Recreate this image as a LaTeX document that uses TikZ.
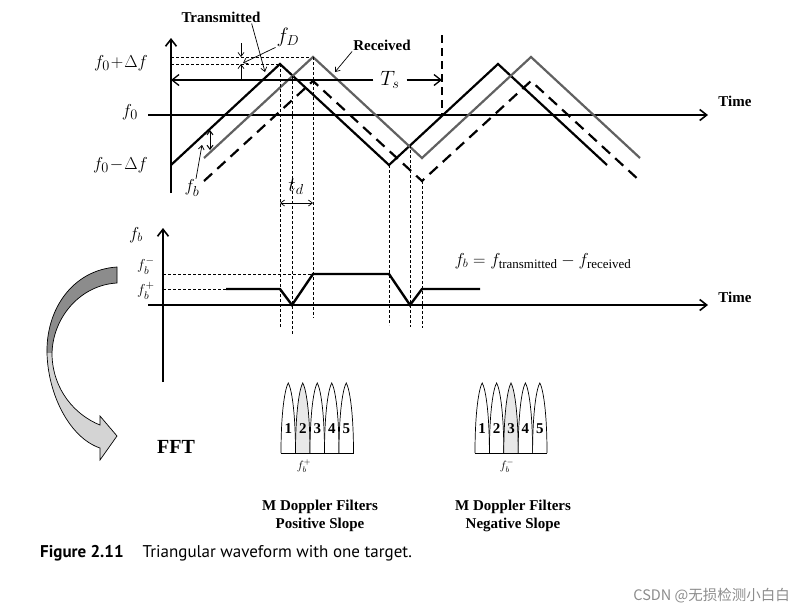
\documentclass[tikz,border=0pt]{standalone}
\usepackage{amsmath}
\usepackage{fontspec}
\setmainfont{Liberation Serif}
\newfontfamily\capfont{PT Sans}
\newfontfamily\cjkfont{Noto Sans CJK SC}
\usepackage{tikz}
\usetikzlibrary{arrows.meta, positioning, calc}

\def\fftarrowpath{(117,267) .. controls (72,270) and (46,310) .. (47,353)
  .. controls (48,395) and (70,438) .. (100,448) -- (100,460) -- (117,436)
  -- (100,416) -- (100,425) .. controls (75,415) and (53,390) .. (52,355)
  .. controls (52,318) and (80,285) .. (117,283) -- cycle}

\begin{document}
\begin{tikzpicture}[x=1pt, y=-1pt,
    axis/.style={line width=1.6pt, -{Straight Barb[length=7pt,width=11pt]}},
    ptr/.style={line width=0.7pt, -{Straight Barb[length=4pt,width=6pt]}},
    guide/.style={line width=0.7pt, dash pattern=on 3pt off 2pt},
    txwave/.style={line width=2.2pt, black},
    rxwave/.style={line width=2.2pt, black!62},
    shiftwave/.style={line width=2.2pt, dash pattern=on 11pt off 7pt},
    lbl/.style={font=\fontsize{15}{18}\selectfont\bfseries, inner sep=1pt},
    mlbl/.style={font=\fontsize{19}{21}\selectfont, inner sep=1pt},
    lobe/.style={draw, line width=0.7pt}]
    \useasboundingbox (0,0) rectangle (804,614);
    % upper plot: frequency against time
    \draw[axis] (171,193) -- (171,38);
    \draw[axis] (148,115) -- (708,115);
    \node[lbl] (time1) at (735,101) {Time};
    \node[mlbl, anchor=east] (fhi) at (149,63) {$f_0\!+\!\Delta f$};
    \node[mlbl, anchor=east] (fmid) at (139,112) {$f_0$};
    \node[mlbl, anchor=east] (flo) at (149,165) {$f_0\!-\!\Delta f$};
    \draw[guide] (171,57) -- (313,57);
    \draw[guide] (171,64) -- (280,64);
    \draw[txwave] (171,165) -- (280,64) -- (389,165) -- (498,64) -- (607,165);
    \draw[rxwave] (204,158) -- (313,57) -- (422,158) -- (531,57) -- (640,158);
    \draw[shiftwave] (204,181) -- (313,81) -- (422,181) -- (531,81) -- (640,181);
    % sweep period
    \node[font=\fontsize{22}{24}\selectfont, inner sep=7pt] (Ts) at (390,80) {$T_s$};
    \coordinate (tsL) at (171,80);
    \coordinate (tsR) at (442,80);
    \draw[line width=1.6pt, dash pattern=on 8pt off 5pt] (442,35) -- (442,115);
    \draw[axis, line width=1.3pt] (Ts.west) -- (tsL);
    \draw[axis, line width=1.3pt] (Ts.east) -- (tsR);
    % labels and pointers
    \node[lbl] (trans) at (221,17) {Transmitted};
    \node[lbl] (recv) at (382,45) {Received};
    \node[mlbl, font=\fontsize{20}{22}\selectfont] (fD) at (288,37) {$f_D$};
    \node[mlbl] (fb) at (192,188) {$f_b$};
    \coordinate (transpt) at (265,72);
    \coordinate (recvpt) at (335,72);
    \coordinate (fDpt) at (243,63);
    \coordinate (fbpt) at (202,145);
    \draw[ptr] ([xshift=-10pt]trans.south east) -- (transpt);
    \draw[ptr] (recv.south west) -- (recvpt);
    \draw[ptr] (fD.south west) -- (fDpt);
    \draw[ptr] ([xshift=4pt]fb.north) -- (fbpt);
    \coordinate (fDa) at (241,43);
    \coordinate (fDb) at (241,57);
    \coordinate (fDc) at (241,64);
    \coordinate (fDd) at (241,80);
    \draw[ptr] (fDa) -- (fDb);
    \draw[ptr] (fDd) -- (fDc);
    \draw[ptr, {Straight Barb[length=4pt,width=6pt]}-{Straight Barb[length=4pt,width=6pt]}, line width=1pt] (210,130) -- (210,150);
    % delay
    \foreach \x/\ya/\yb in {280/64/327, 292/76/335, 313/57/318, 389/165/325, 410/145/327, 422/181/328} {
        \draw[guide] (\x,\ya) -- (\x,\yb);
    }
    \draw[ptr, {Straight Barb[length=4pt,width=6pt]}-{Straight Barb[length=4pt,width=6pt]}] (280,203) -- (313,203);
    \node[font=\fontsize{22}{24}\selectfont, inner sep=0pt] (td) at (296,187) {$t_d$};
    % lower plot: beat frequency
    \draw[axis] (163,382) -- (163,228);
    \draw[axis] (148,305) -- (708,305);
    \node[lbl] (time2) at (735,297) {Time};
    \node[mlbl, font=\fontsize{17}{19}\selectfont] (fbax) at (136,235) {$f_b$};
    \node[font=\fontsize{15}{17}\selectfont, inner sep=0pt] (fbminus) at (146,266) {$f_b^-$};
    \node[font=\fontsize{15}{17}\selectfont, inner sep=0pt] (fbplus) at (146,291) {$f_b^+$};
    \draw[guide] (163,274) -- (313,274);
    \draw[guide] (163,289) -- (226,289);
    \draw[line width=2.4pt] (226,289) -- (280,289) -- (292,305) -- (313,274) -- (389,274) -- (410,305) -- (422,289) -- (480,289);
    \node[mlbl, font=\fontsize{18.5}{21}\selectfont] (beat) at (543,261) {$f_b=f_{\text{transmitted}}-f_{\text{received}}$};
    % FFT arrow
    \fill[black!17] \fftarrowpath;
    \begin{scope}
        \clip (40,255) rectangle (120,352);
        \fill[black!45] \fftarrowpath;
    \end{scope}
    \draw[line width=0.7pt] \fftarrowpath;
    \node[lbl, font=\fontsize{20}{22}\selectfont\bfseries] (fft) at (176,447) {FFT};
    % Doppler filter banks
    \foreach \i/\c in {1/white, 2/black!9, 3/white, 4/white, 5/white} {
        \pgfmathsetmacro\xa{281+14.5*(\i-1)}
        \pgfmathsetmacro\xb{\xa+14.5}
        \pgfmathsetmacro\xm{\xa+7.25}
        \draw[lobe, fill=\c] (\xa,453) .. controls (\xa,410) and (\xm-3,388) .. (\xm,383) .. controls (\xm+3,388) and (\xb,410) .. (\xb,453);
        \node[lbl] (pos\i) at (\xm,429) {\i};
    }
    \foreach \i/\c in {1/white, 2/white, 3/black!9, 4/white, 5/white} {
        \pgfmathsetmacro\xa{475+14.4*(\i-1)}
        \pgfmathsetmacro\xb{\xa+14.4}
        \pgfmathsetmacro\xm{\xa+7.2}
        \draw[lobe, fill=\c] (\xa,453) .. controls (\xa,410) and (\xm-3,388) .. (\xm,383) .. controls (\xm+3,388) and (\xb,410) .. (\xb,453);
        \node[lbl] (neg\i) at (\xm,429) {\i};
    }
    \draw[line width=0.9pt] (281,453) -- (353.5,453);
    \draw[line width=0.9pt] (475,453) -- (547,453);
    \node[font=\fontsize{12}{14}\selectfont, inner sep=0pt] (fbp) at (304,466) {$f_b^+$};
    \node[font=\fontsize{12}{14}\selectfont, inner sep=0pt] (fbm) at (507,466) {$f_b^-$};
    \node[lbl, align=center] (posbank) at (320,516) {M Doppler Filters\\Positive Slope};
    \node[lbl, align=center] (negbank) at (513,516) {M Doppler Filters\\Negative Slope};
    % caption and mark
    \node[anchor=west, font=\capfont\fontsize{17}{19}\selectfont, inner sep=0pt] (cap) at (40,553) {\textbf{Figure 2.11}\hspace{19pt}Triangular waveform with one target.};
    \node[anchor=east, font=\cjkfont\fontsize{14.5}{17}\selectfont, text=black!45, inner sep=0pt] (mark) at (790,596) {CSDN @无损检测小白白};
\end{tikzpicture}
\end{document}
